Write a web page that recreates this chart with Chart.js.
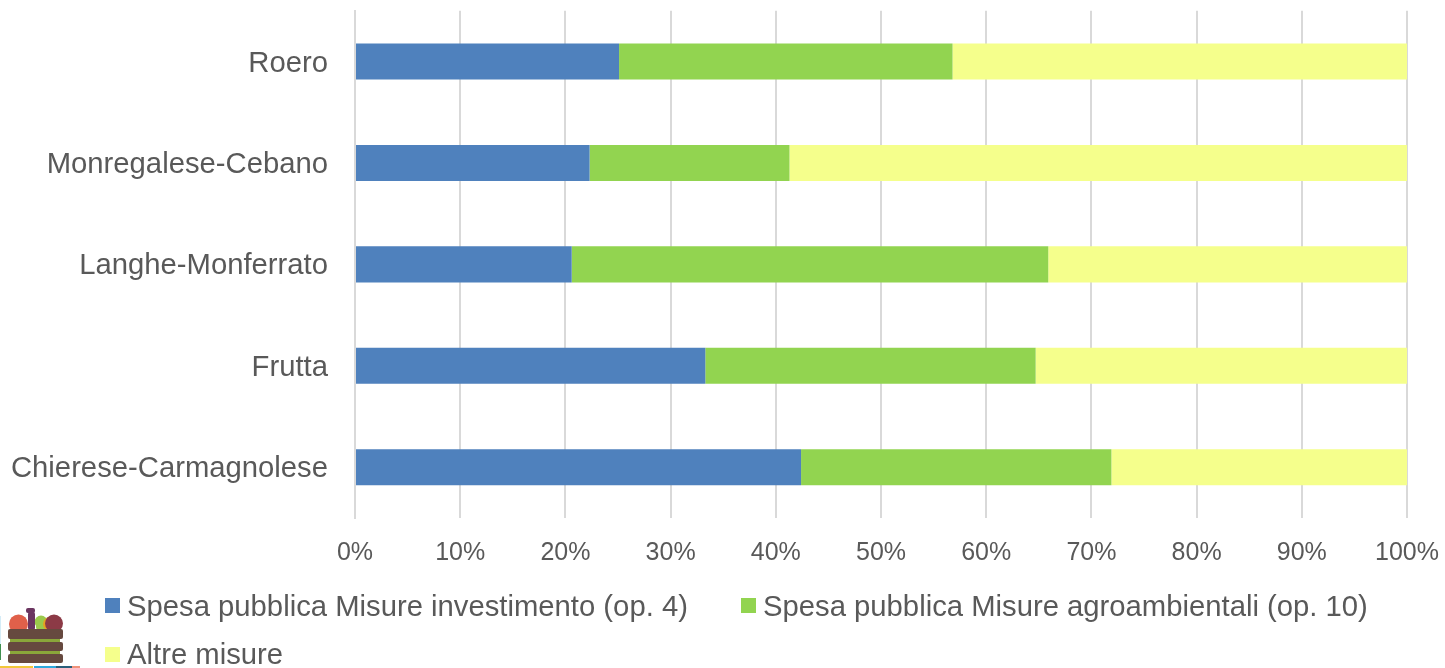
<!DOCTYPE html>
<html><head><meta charset="utf-8">
<script src="https://cdn.jsdelivr.net/npm/chart.js@4"></script>
<style>html,body{margin:0;padding:0;background:#fff}#w{position:relative;width:1445px;height:668px}canvas{display:block}</style>
</head><body><div id="w"><canvas id="c" width="1445" height="668"></canvas></div>
<script>
const categories=["Roero","Monregalese-Cebano","Langhe-Monferrato","Frutta","Chierese-Carmagnolese"];
const investimento=[25.1,22.3,20.6,33.3,42.4];
const agroambientali=[31.7,19.0,45.3,31.4,29.5];
const altre=[43.2,58.7,34.1,35.3,28.1];
const seriesNames=["Spesa pubblica Misure investimento (op. 4)","Spesa pubblica Misure agroambientali (op. 10)","Altre misure"];
const xTicks=[0,10,20,30,40,50,60,70,80,90,100];
const FONT='"Liberation Sans"';
const seriesColors=['#4f81bd','#92d450','#f5ff8c'];
new Chart(document.getElementById('c'),{
 type:'bar',
 data:{labels:categories,datasets:[
  {label:seriesNames[0],data:investimento,backgroundColor:seriesColors[0]},
  {label:seriesNames[1],data:agroambientali,backgroundColor:seriesColors[1]},
  {label:seriesNames[2],data:altre,backgroundColor:seriesColors[2]}]},
 options:{indexAxis:'y',responsive:false,animation:false,
  layout:{padding:{left:0,right:38,top:10.75,bottom:0}},
  plugins:{legend:{display:false},tooltip:{enabled:false}},
  datasets:{bar:{categoryPercentage:1,barPercentage:0.355}},
  scales:{
   x:{stacked:true,min:0,max:100,
      afterBuildTicks(a){a.ticks=xTicks.map(v=>({value:v}));},
      afterFit(a){a.height=150;a.paddingLeft=0;a.paddingRight=0;},
      ticks:{color:'#595959',font:{family:FONT,size:25},padding:20,maxRotation:0,autoSkip:false,callback:v=>v+'%'},
      grid:{color:'#d9d9d9',lineWidth:2,drawTicks:false},border:{display:false}},
   y:{stacked:true,
      afterFit(a){a.width=355;a.paddingTop=0;a.paddingBottom=0;},
      ticks:{color:'#595959',font:{family:FONT,size:29.25},padding:19},
      grid:{display:false},border:{color:'#d9d9d9',width:2}}
  }
 },
 plugins:[{id:'place',
  beforeDraw(ch){
   ch.scales.y.getLabelItems().forEach(it=>{it.options.translation[1]+=2;});
  },
  afterDraw(ch){
   const g=ch.ctx;g.save();
   const items=[[105,598,608,0],[741,598,608,1],[105,647,656,2]];
   g.font='29.25px '+FONT;g.textBaseline='middle';
   items.forEach(([x,sy,ty,i])=>{g.fillStyle=seriesColors[i];g.fillRect(x,sy,15,15);g.fillStyle='#595959';g.fillText(seriesNames[i],x+22,ty);});
   // basket logo
   const rr=(x,y,w,h,r,c)=>{g.fillStyle=c;g.beginPath();g.roundRect(x,y,w,h,r);g.fill();};
   const circ=(x,y,r,c)=>{g.fillStyle=c;g.beginPath();g.arc(x,y,r,0,Math.PI*2);g.fill();};
   circ(18.5,624,9.5,'#e0604a');
   circ(41,622,6.5,'#9cc94c');rr(36,618,11,12,3,'#9cc94c');
   circ(50,624,7,'#e8a020');
   circ(54,623.5,9,'#8c3a46');
   rr(28,612,7,18,2,'#6b3560');rr(26,608,9,5,2,'#6b3560');
   rr(10,638,50,4,0,'#8aa63a');rr(10,650,50,5,0,'#8aa63a');
   rr(8,629,55,10,2,'#66493f');rr(8,642,55,9,2,'#66493f');rr(8,654,55,9,2,'#66493f');
   [[0,33,'#f2c73a'],[34,22,'#2fa8dc'],[56,16,'#2a5f7a'],[72,8,'#f0937a']].forEach(([x,w,c])=>{g.fillStyle=c;g.fillRect(x,666,w,2);});
   g.fillStyle='#d5ecf7';g.fillRect(0,616,1,28);
   g.fillStyle='#3f8f4f';g.fillRect(0,644,1,16);
   g.restore();
  }}]
});
</script></body></html>
